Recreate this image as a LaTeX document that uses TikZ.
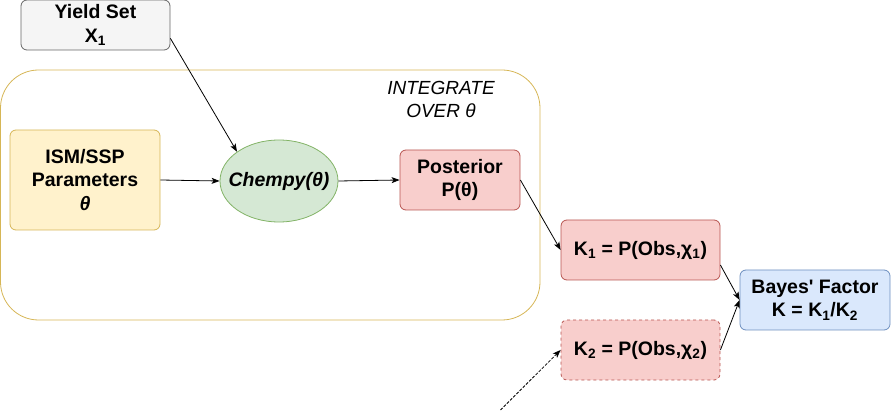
\documentclass[tikz,border=0pt]{standalone}
\usepackage{fontspec}
\setmainfont{Liberation Sans}
\usetikzlibrary{arrows.meta,shapes.geometric}
\definecolor{ygfill}{HTML}{F5F5F5}\definecolor{ygdraw}{HTML}{666666}
\definecolor{orfill}{HTML}{FFF2CC}\definecolor{ordraw}{HTML}{D6B656}
\definecolor{grfill}{HTML}{D5E8D4}\definecolor{grdraw}{HTML}{82B366}
\definecolor{rdfill}{HTML}{F8CECC}\definecolor{rddraw}{HTML}{B85450}
\definecolor{blfill}{HTML}{DAE8FC}\definecolor{bldraw}{HTML}{6C8EBF}
\tikzset{
  box/.style={rounded corners=6pt, line width=0.8pt, inner sep=0pt, align=center,
    font=\fontsize{19.5}{23.5}\selectfont\bfseries},
  conn/.style={-{Stealth[length=8pt,width=6pt,inset=2pt]}, line width=0.8pt},
}
\begin{document}
\begin{tikzpicture}[x=1pt,y=-1pt]
\useasboundingbox (0,0) rectangle (891,419);
% container
\draw[ordraw, line width=0.8pt, rounded corners=38pt] (0.5,70) rectangle (540,320);
\node[align=center, font=\fontsize{19}{23}\selectfont\itshape] (integ) at (441,99) {INTEGRATE\\OVER θ};
% nodes
\node[box, fill=ygfill, draw=ygdraw, minimum width=149pt, minimum height=50pt] (yield) at (95.5,25) {Yield Set\\Χ\textsubscript{1}};
\node[box, fill=orfill, draw=ordraw, minimum width=150pt, minimum height=100pt] (ism) at (85,180) {ISM/SSP\\Parameters\\\textit{θ}};
\node[ellipse, fill=grfill, draw=grdraw, line width=0.8pt, inner sep=0pt, minimum width=118pt, minimum height=82pt] (chempy) at (279,181) {};
\node[font=\fontsize{19.5}{23.5}\selectfont\bfseries\itshape, inner sep=0pt] (chempytext) at (chempy.center) {Chempy(θ)};
\node[box, fill=rdfill, draw=rddraw, minimum width=120pt, minimum height=60pt] (post) at (460,180) {Posterior\\P(θ)};
\node[box, fill=rdfill, draw=rddraw, minimum width=159pt, minimum height=60pt] (k1) at (640.5,250) {K\textsubscript{1} = P(Obs,χ\textsubscript{1})};
\node[box, fill=rdfill, draw=rddraw, dashed, minimum width=159pt, minimum height=60pt] (k2) at (640.5,350) {K\textsubscript{2} = P(Obs,χ\textsubscript{2})};
\node[box, fill=blfill, draw=bldraw, minimum width=150pt, minimum height=60pt] (bayes) at (815,300) {Bayes\textquotesingle\ Factor\\K = K\textsubscript{1}/K\textsubscript{2}};
\coordinate (free) at (500.5,410);
% connectors
\draw[conn] (ism.east) -- (chempy.west);
\draw[conn] (chempy.east) -- (post.west);
\draw[conn] (yield.south east) ++(0,-12) -- (chempy.north west);
\draw[conn] (post.east) -- (k1.west);
\draw[conn] (k1.east) ++(0,15) -- (bayes.west);
\draw[conn] (k2.east) -- (bayes.west);
\draw[conn, dash pattern=on 3pt off 1.5pt] (free) -- (k2.west);
\end{tikzpicture}
\end{document}
